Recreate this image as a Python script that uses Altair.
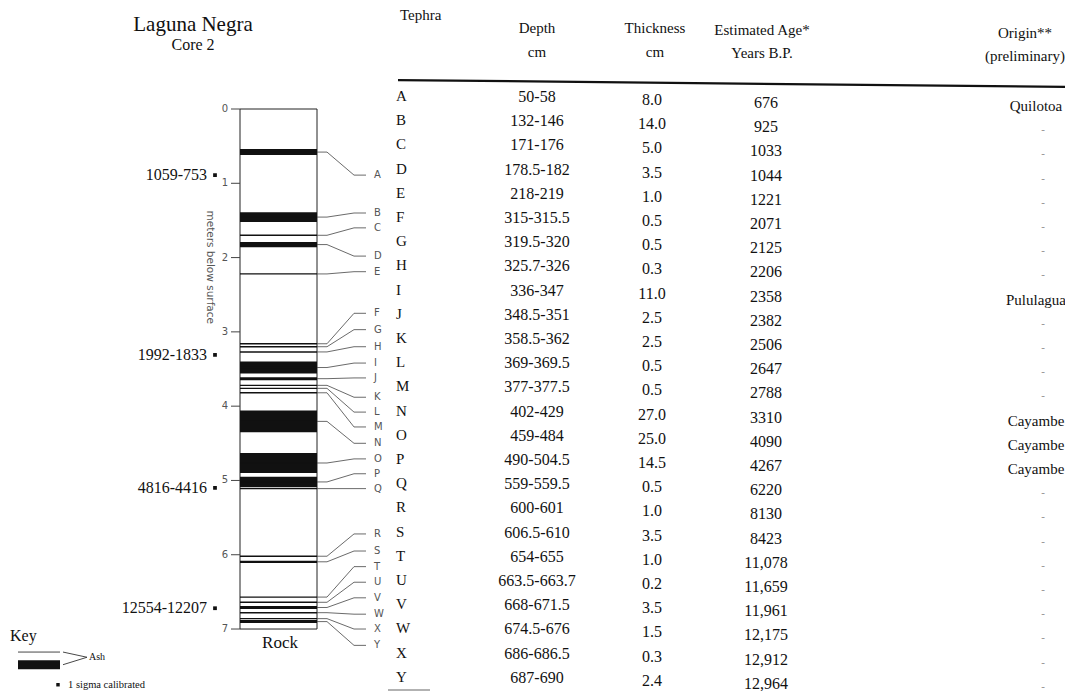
import altair as alt
import pandas as pd

# ---------------- data ----------------
tephra = list("ABCDEFGHIJKLMNOPQRSTUVWXY")
depth_top_cm = [50, 132, 171, 178.5, 218, 315, 319.5, 325.7, 336, 348.5, 358.5, 369, 377,
                402, 459, 490, 559, 600, 606.5, 654, 663.5, 668, 674.5, 686, 687]
depth_bottom_cm = [58, 146, 176, 182, 219, 315.5, 320, 326, 347, 351, 362, 369.5, 377.5,
                   429, 484, 504.5, 559.5, 601, 610, 655, 663.7, 671.5, 676, 686.5, 690]
thickness_cm = [8.0, 14.0, 5.0, 3.5, 1.0, 0.5, 0.5, 0.3, 11.0, 2.5, 2.5, 0.5, 0.5,
                27.0, 25.0, 14.5, 0.5, 1.0, 3.5, 1.0, 0.2, 3.5, 1.5, 0.3, 2.4]
age_bp = [676, 925, 1033, 1044, 1221, 2071, 2125, 2206, 2358, 2382, 2506, 2647, 2788,
          3310, 4090, 4267, 6220, 8130, 8423, 11078, 11659, 11961, 12175, 12912, 12964]
origin = ["Quilotoa"] + ["-"] * 7 + ["Pululagua"] + ["-"] * 4 + ["Cayambe"] * 3 + ["-"] * 9
# bands as drawn in the core column (m below surface)
band_top_m = [0.54, 1.39, 1.70, 1.79, 2.22, 3.16, 3.20, 3.27, 3.40, 3.61, 3.72, 3.76, 3.82,
              4.06, 4.63, 4.95, 5.11, 6.02, 6.08, 6.57, 6.64, 6.69, 6.78, 6.86, 6.88]
band_bottom_m = [0.62, 1.52, 1.70, 1.86, 2.22, 3.16, 3.20, 3.27, 3.56, 3.65, 3.72, 3.76, 3.82,
                 4.35, 4.90, 5.09, 5.11, 6.02, 6.11, 6.57, 6.64, 6.73, 6.78, 6.86, 6.92]
# depth (m) at which each tephra letter is written beside the core
label_depth_m = [0.89, 1.40, 1.60, 1.98, 2.19, 2.75, 2.97, 3.20, 3.42, 3.62, 3.88, 4.08, 4.28,
                 4.50, 4.71, 4.91, 5.11, 5.72, 5.95, 6.16, 6.37, 6.58, 6.80, 7.00, 7.22]
date_labels = ["1059-753", "1992-1833", "4816-4416", "12554-12207"]
date_depth_m = [0.89, 3.31, 5.10, 6.72]
tick_m = [0, 1, 2, 3, 4, 5, 6, 7]

# ---------------- layout ----------------
W, H = 1057, 683
TOP = 8                       # page y of plot top
Y0_PX, PX_PER_M = 109, 74.29  # page y of 0 m, pixels per metre
ROW0_PX, ROW_PX = 96, 24.2    # page y of first table row, row pitch
D0 = (TOP - Y0_PX) / PX_PER_M
D1 = (TOP + H - Y0_PX) / PX_PER_M
R0 = (TOP - ROW0_PX) / ROW_PX
R1 = (TOP + H - ROW0_PX) / ROW_PX
CORE_L, CORE_R = 240, 317

SERIF = "Liberation Serif"
SANS = "DejaVu Sans"
GRAY = "#555555"

xs = alt.Scale(domain=[8, 8 + W], nice=False, zero=False)
ds = alt.Scale(domain=[D0, D1], reverse=True, nice=False, zero=False)
rs = alt.Scale(domain=[R0, R1], reverse=True, nice=False, zero=False)


def X(f="x"):
    return alt.X(f"{f}:Q", scale=xs, axis=None)


def YD(f="y"):
    return alt.Y(f"{f}:Q", scale=ds, axis=None)


def YR(f="y"):
    return alt.Y(f"{f}:Q", scale=rs, axis=None)


def fmt_num(v):
    return f"{v:g}"


core = pd.DataFrame({
    "tephra": tephra,
    "top": band_top_m,
    "bottom": band_bottom_m,
    "label": label_depth_m,
    "row": list(range(len(tephra))),
    "depth_txt": [f"{fmt_num(a)}-{fmt_num(b)}" for a, b in zip(depth_top_cm, depth_bottom_cm)],
    "thick_txt": [f"{t:.1f}" for t in thickness_cm],
    "age_txt": [f"{a:,}" if a >= 10000 else str(a) for a in age_bp],
    "origin": origin,
})
core["mid"] = (core["top"] + core["bottom"]) / 2
core["xl"] = CORE_L
core["xr"] = CORE_R

layers = []

# core box
box = pd.DataFrame({"x": [CORE_L], "x2": [CORE_R], "y": [0.0], "y2": [7.0]})
layers.append(alt.Chart(box).mark_rect(fill="white", stroke="#222222", strokeWidth=1).encode(
    x=X(), x2="x2:Q", y=YD(), y2="y2:Q"))

# ash bands
layers.append(alt.Chart(core).mark_rect(color="#111111").encode(
    x=X("xl"), x2="xr:Q", y=YD("top"), y2="bottom:Q"))
layers.append(alt.Chart(core).mark_rule(color="#111111", strokeWidth=1.4).encode(
    x=X("xl"), x2="xr:Q", y=YD("mid")))

# leader lines
lead_rows = []
for t, m, lab in zip(core["tephra"], core["mid"], core["label"]):
    for k, (xx, yy) in enumerate([(CORE_R, m), (CORE_R + 10, m), (CORE_R + 37, lab), (CORE_R + 49, lab)]):
        lead_rows.append({"tephra": t, "k": k, "x": xx, "y": yy})
leaders = pd.DataFrame(lead_rows)
layers.append(alt.Chart(leaders).mark_line(color="#444444", strokeWidth=0.8).encode(
    x=X(), y=YD(), detail="tephra:N", order="k:Q"))

letters = core.assign(x=CORE_R + 57)
layers.append(alt.Chart(letters).mark_text(font=SANS, fontSize=10, color=GRAY, align="left",
                                           baseline="middle").encode(
    x=X(), y=YD("label"), text="tephra:N"))

# depth ticks and labels
ticks = pd.DataFrame({"y": tick_m, "x": 231, "x2": CORE_L, "lab": [str(t) for t in tick_m], "xt": 228})
layers.append(alt.Chart(ticks).mark_rule(color="#444444", strokeWidth=1).encode(
    x=X(), x2="x2:Q", y=YD()))
layers.append(alt.Chart(ticks).mark_text(font=SANS, fontSize=10, color=GRAY, align="right",
                                         baseline="middle").encode(
    x=X("xt"), y=YD(), text="lab:N"))
layers.append(alt.Chart(pd.DataFrame({"x": [210], "y": [2.13], "t": ["meters below surface"]})).mark_text(
    font=SANS, fontSize=10.5, color=GRAY, angle=90, align="center", baseline="middle").encode(
    x=X(), y=YD(), text="t:N"))

# radiocarbon dates
dates = pd.DataFrame({"t": date_labels, "y": date_depth_m, "x": 207, "xs": 215})
layers.append(alt.Chart(dates).mark_text(font=SERIF, fontSize=16, color="#111111", align="right",
                                         baseline="middle").encode(
    x=X(), y=YD(), text="t:N"))
layers.append(alt.Chart(dates).mark_square(size=14, color="#111111", opacity=1).encode(
    x=X("xs"), y=YD()))

# title
titles = pd.DataFrame({"t": ["Laguna Negra", "Core 2"], "y": [-1.13, -0.86], "x": [193, 193],
                       "s": [21, 16]})
layers.append(alt.Chart(titles).mark_text(font=SERIF, color="#111111", align="center",
                                          baseline="middle").encode(
    x=X(), y=YD(), text="t:N", size=alt.Size("s:Q", scale=None, legend=None)))

# Rock + key texts
misc = pd.DataFrame({
    "t": ["Rock", "Key", "Ash", "1 sigma calibrated"],
    "x": [280, 10, 89, 68],
    "y": [7.19, 7.09, 7.38, 7.75],
    "s": [17, 16, 10, 10.5],
    "a": ["center", "left", "left", "left"],
})
for a in ["center", "left"]:
    layers.append(alt.Chart(misc[misc["a"] == a]).mark_text(font=SERIF, color="#111111", align=a,
                                                             baseline="middle").encode(
        x=X(), y=YD(), text="t:N", size=alt.Size("s:Q", scale=None, legend=None)))

key_lines = pd.DataFrame({"x": [18, 63, 63], "x2": [60, 87, 87], "y": [7.31, 7.31, 7.48],
                          "y2": [7.31, 7.38, 7.38]})
layers.append(alt.Chart(key_lines).mark_rule(color="#333333", strokeWidth=0.9).encode(
    x=X(), x2="x2:Q", y=YD(), y2="y2:Q"))
layers.append(alt.Chart(pd.DataFrame({"x": [18], "x2": [60], "y": [7.42], "y2": [7.54]})).mark_rect(
    color="#111111").encode(x=X(), x2="x2:Q", y=YD(), y2="y2:Q"))
layers.append(alt.Chart(pd.DataFrame({"x": [58], "y": [7.75]})).mark_square(
    size=12, color="#111111", opacity=1).encode(x=X(), y=YD()))

# ---------------- table ----------------
headers = pd.DataFrame({
    "t": ["Tephra", "Depth", "cm", "Thickness", "cm", "Estimated Age*", "Years B.P.", "Origin**",
          "(preliminary)"],
    "x": [400, 537, 537, 655, 655, 762, 762, 1025, 1025],
    "y": [-3.35, -2.81, -1.82, -2.81, -1.82, -2.73, -1.78, -2.60, -1.65],
    "a": ["left"] + ["center"] * 8,
})
for a in ["left", "center"]:
    layers.append(alt.Chart(headers[headers["a"] == a]).mark_text(
        font=SERIF, fontSize=15, color="#111111", align=a, baseline="middle").encode(
        x=X(), y=YR(), text="t:N"))

hrule = pd.DataFrame({"x": [398], "x2": [1073], "y": [-0.66], "y2": [-0.37]})
layers.append(alt.Chart(hrule).mark_rule(color="#111111", strokeWidth=2.2).encode(
    x=X(), x2="x2:Q", y=YR(), y2="y2:Q"))
brule = pd.DataFrame({"x": [388], "x2": [430], "y": [24.55]})
layers.append(alt.Chart(brule).mark_rule(color="#999999", strokeWidth=1.5).encode(
    x=X(), x2="x2:Q", y=YR()))

cols = [("tephra", 396, "left", 0, 15), ("depth_txt", 537, "center", 1, 16),
        ("thick_txt", 652, "center", 4, 16), ("age_txt", 766, "center", 7, 16)]
for field, xx, al, dy, fs in cols:
    layers.append(alt.Chart(core.assign(x=xx)).mark_text(
        font=SERIF, fontSize=fs, color="#111111", align=al, baseline="middle", dy=dy).encode(
        x=X(), y=YR("row"), text=f"{field}:N"))

named = core[core["origin"] != "-"].assign(x=1036)
dash = core[core["origin"] == "-"].assign(x=1043)
layers.append(alt.Chart(named).mark_text(font=SERIF, fontSize=15, color="#111111", align="center",
                                         baseline="middle", dy=10).encode(
    x=X(), y=YR("row"), text="origin:N"))
layers.append(alt.Chart(dash).mark_text(font=SERIF, fontSize=11, color="#888888", align="center",
                                        baseline="middle", dy=10).encode(
    x=X(), y=YR("row"), text="origin:N"))

chart = alt.layer(*layers).resolve_scale(y="independent", size="independent").properties(
    width=W, height=H, padding=0, autosize=alt.AutoSizeParams(type="none"),
    background="white",
).configure_view(stroke=None)

chart.save("out.html", embed_options={"renderer": "svg", "actions": False})
